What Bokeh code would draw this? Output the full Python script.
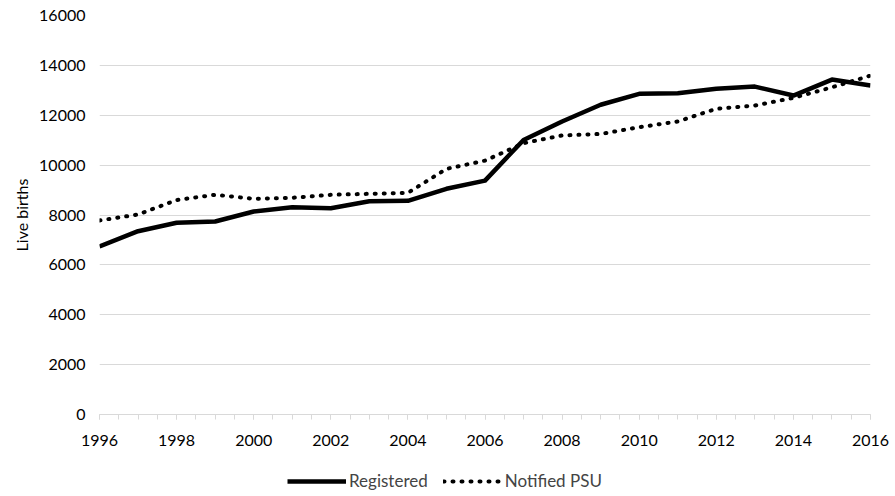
import numpy as np
from bokeh.plotting import figure
from bokeh.layouts import column
from bokeh.models import (FixedTicker, Legend, LegendItem, ColumnDataSource, Title)
from bokeh.embed import file_html
from bokeh.resources import INLINE

years = list(range(1996, 2017))
registered = [6740, 7350, 7690, 7740, 8140, 8310, 8270, 8550, 8570, 9050, 9380,
              11010, 11750, 12420, 12860, 12880, 13060, 13150, 12790, 13430, 13190]
notified_psu = [7780, 8020, 8600, 8810, 8650, 8690, 8810, 8850, 8890, 9850, 10180,
                10880, 11190, 11250, 11520, 11750, 12260, 12390, 12700, 13120, 13590]
x_labels = list(range(1996, 2017, 2))
y_ticks = list(range(0, 16001, 2000))

FONT = "Lato"
src = ColumnDataSource(dict(year=years, reg=registered, psu=notified_psu))
SOLID = dict(line_color="black", line_width=4.5, line_join="round")
DOTTED = dict(line_color="black", line_width=4, line_dash="1 8", line_cap="round")

p = figure(width=895, height=460, output_backend="svg", toolbar_location=None,
           x_range=(1996, 2016), y_range=(0, 16000),
           min_border_left=99, min_border_right=25, min_border_top=15, min_border_bottom=46)
p.outline_line_color = None

p.line("year", "reg", source=src, **SOLID)
p.line("year", "psu", source=src, **DOTTED)

p.xaxis.ticker = FixedTicker(ticks=x_labels, minor_ticks=list(np.arange(1996, 2016.01, 0.5)))
p.xaxis.axis_line_color = "#d9d9d9"
p.xaxis.major_tick_line_color = "#d9d9d9"
p.xaxis.minor_tick_line_color = "#d9d9d9"
p.xaxis.major_tick_out = 5
p.xaxis.major_tick_in = 0
p.xaxis.minor_tick_out = 5
p.xaxis.minor_tick_in = 0
p.xaxis.major_label_text_font = FONT
p.xaxis.major_label_text_font_size = "16px"
p.xaxis.major_label_text_color = "black"
p.xaxis.major_label_standoff = 15

p.yaxis.ticker = FixedTicker(ticks=y_ticks)
p.yaxis.axis_line_color = None
p.yaxis.major_tick_line_color = None
p.yaxis.minor_tick_line_color = None
p.yaxis.major_tick_out = 0
p.yaxis.major_tick_in = 0
p.yaxis.minor_tick_out = 0
p.yaxis.minor_tick_in = 0
p.yaxis.major_label_text_font = FONT
p.yaxis.major_label_text_font_size = "16px"
p.yaxis.major_label_text_color = "black"
p.yaxis.major_label_standoff = 14

ytitle = Title(text="Live births", align="center", vertical_align="middle",
               text_font=FONT, text_font_size="16px",
               text_font_style="normal", text_color="black", standoff=10)
p.add_layout(ytitle, "left")

p.xgrid.grid_line_color = None
p.ygrid.grid_line_color = "#d9d9d9"
p.ygrid.grid_line_width = 1

# legend strip below the chart (same series, drawn outside its view so only the legend shows)
lg = figure(width=895, height=36, output_backend="svg", toolbar_location=None,
            x_range=(0, 1), y_range=(0, 1), min_border=0)
lg.axis.visible = False
lg.grid.visible = False
lg.outline_line_color = None
l1 = lg.line("year", "reg", source=src, **SOLID)
l2 = lg.line("year", "psu", source=src, **DOTTED)

legend = Legend(items=[LegendItem(label="Registered", renderers=[l1]),
                       LegendItem(label="Notified PSU", renderers=[l2])],
                orientation="horizontal", location=(188, 5),
                glyph_width=59, label_text_font=FONT, label_text_font_size="17px",
                spacing=15, label_standoff=3, border_line_color=None,
                background_fill_alpha=0, padding=0, margin=0)
lg.add_layout(legend, "center")

layout = column(p, lg, spacing=0)
open("out.html", "w").write(file_html(layout, INLINE))
